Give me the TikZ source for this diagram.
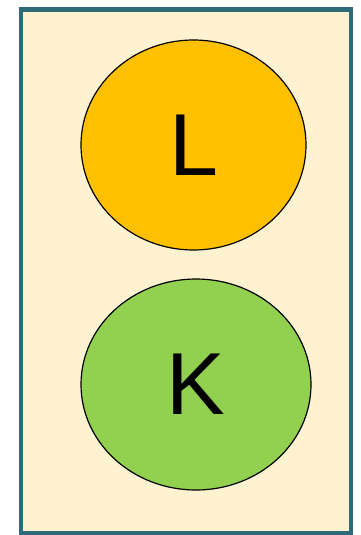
\documentclass[tikz,border=0pt]{standalone}
\usepackage{fontspec}
\setmainfont{Liberation Sans}
\usetikzlibrary{shapes.geometric}

\definecolor{frameline}{HTML}{2E6B78}
\definecolor{framefill}{HTML}{FFF2D0}
\definecolor{lfill}{HTML}{FFC000}
\definecolor{kfill}{HTML}{92D050}

\tikzset{
  blob/.style={ellipse,draw=black,line width=1.2pt,inner sep=0pt,
    font=\fontsize{88}{88}\selectfont},
}

\begin{document}
\begin{tikzpicture}[x=1pt,y=-1pt]

\useasboundingbox (0,0) rectangle (360,535);

\draw[frameline,fill=framefill,line width=4.5pt] (21,9.5) rectangle (351,533);

\node[blob,fill=lfill,minimum width=225pt,minimum height=210pt] (l) at (193.5,145) {L};
\node[blob,fill=kfill,minimum width=230pt,minimum height=211pt] (k) at (196,384.5) {K};

\end{tikzpicture}
\end{document}
